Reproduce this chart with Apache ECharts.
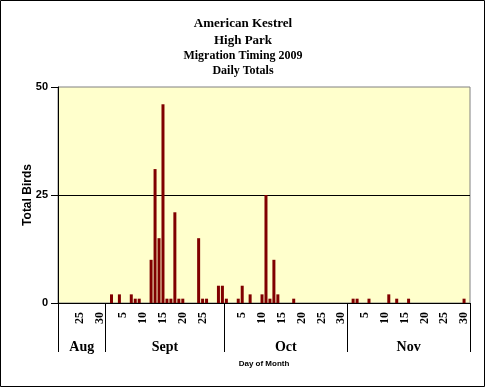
<!DOCTYPE html>
<html>
<head>
<meta charset="utf-8">
<script src="https://cdn.jsdelivr.net/npm/echarts@6/dist/echarts.min.js"></script>
<style>
html,body{margin:0;padding:0;background:#fff;}
#chart{width:486px;height:388px;}
</style>
</head>
<body>
<div id="chart"></div>
<script>
// ---- data ----
const monthNames = ['Aug', 'Sept', 'Oct', 'Nov'];
const firstDay = [20, 1, 1, 1];
const lastDay = [31, 30, 31, 30];
const labelledDays = {
  Aug: [25, 30],
  Sept: [5, 10, 15, 20, 25],
  Oct: [5, 10, 15, 20, 25, 30],
  Nov: [5, 10, 15, 20, 25, 30]
};
// daily counts, one value per day from firstDay to lastDay
const augCounts  = [0,0,0,0,0,0,0,0,0,0,0,0];
const septCounts = [0,2,0,2,0,0,2,1,1,0, 0,10,31,15,46,1,1,21,1,1, 0,0,0,15,1,1,0,0,4,4];
const octCounts  = [1,0,0,1,4,0,2,0,0,2, 25,1,10,2,0,0,0,1,0,0, 0,0,0,0,0,0,0,0,0,0,0];
const novCounts  = [0,1,1,0,0,1,0,0,0,0, 2,0,1,0,0,1,0,0,0,0, 0,0,0,0,0,0,0,0,0,1];
const yTicks = [0, 25, 50];
const titleLines = ['American Kestrel', 'High Park', 'Migration Timing 2009', 'Daily Totals'];

// ---- build categories ----
const monthCounts = [augCounts, septCounts, octCounts, novCounts];
const categories = [];
const labels = [];
const values = [];
const boundaries = [0];
monthNames.forEach((m, i) => {
  for (let d = firstDay[i]; d <= lastDay[i]; d++) {
    categories.push(m + ' ' + d);
    labels.push(labelledDays[m].indexOf(d) >= 0 ? String(d) : '');
    values.push(monthCounts[i][d - firstDay[i]]);
  }
  boundaries.push(categories.length);
});
// trailing empty slot at the end of the axis
categories.push('');
labels.push('');
values.push(null);
const total = categories.length;
boundaries[boundaries.length - 1] = total;
const monthCenters = [];
for (let i = 0; i < monthNames.length; i++) monthCenters.push((boundaries[i] + boundaries[i + 1]) / 2);

const serif = 'Liberation Serif';
const sans = 'Liberation Sans';
const titleTops = [17, 34, 50, 65];
const titleSizes = [13, 13, 12, 12];

const chart = echarts.init(document.getElementById('chart'), null, {renderer: 'canvas'});
chart.setOption({
  animation: false,
  backgroundColor: '#ffffff',
  title: titleLines.map((t, i) => ({
    text: t, left: 'center', top: titleTops[i], padding: 0,
    textStyle: {fontFamily: serif, fontWeight: 'bold', fontSize: titleSizes[i], color: '#000'}
  })),
  graphic: [{
    type: 'rect', shape: {x: 0.5, y: 0.5, width: 484, height: 386},
    style: {fill: 'none', stroke: '#000', lineWidth: 1}, silent: true
  }],
  grid: {
    left: 58, right: 16, top: 87, bottom: 85,
    show: true, backgroundColor: '#FFFFCC', borderColor: '#808080', borderWidth: 1,
    containLabel: false
  },
  xAxis: [{
    type: 'category', data: categories, position: 'bottom',
    axisLine: {show: true, lineStyle: {color: '#000', width: 1}},
    axisTick: {show: false},
    splitLine: {show: false},
    axisLabel: {
      interval: 0, rotate: 90, margin: 9,
      formatter: (v, idx) => labels[idx],
      fontFamily: serif, fontWeight: 'bold', fontSize: 12, color: '#000'
    }
  }, {
    type: 'value', min: 0, max: total, position: 'bottom',
    axisLine: {show: false},
    axisTick: {show: true, customValues: boundaries, length: 49, lineStyle: {color: '#000', width: 1}},
    splitLine: {show: false},
    axisLabel: {
      customValues: monthCenters, margin: 37,
      formatter: (v) => { const k = monthCenters.indexOf(v); return k >= 0 ? monthNames[k] : ''; },
      fontFamily: serif, fontWeight: 'bold', fontSize: 14, color: '#000'
    },
    name: 'Day of Month', nameLocation: 'middle', nameGap: 57, nameMoveOverlap: false,
    nameTextStyle: {fontFamily: sans, fontWeight: 'bold', fontSize: 8, color: '#000'}
  }],
  yAxis: {
    type: 'value', min: yTicks[0], max: yTicks[yTicks.length - 1], interval: yTicks[1] - yTicks[0],
    axisLine: {show: true, lineStyle: {color: '#000', width: 1}},
    axisTick: {show: true, length: 7, lineStyle: {color: '#000'}},
    splitLine: {show: true, showMinLine: false, showMaxLine: false, lineStyle: {color: '#000', width: 1}},
    axisLabel: {margin: 10, fontFamily: sans, fontWeight: 'bold', fontSize: 11, color: '#000'},
    name: 'Total Birds', nameLocation: 'middle', nameGap: 24, nameMoveOverlap: false,
    nameTextStyle: {fontFamily: sans, fontWeight: 'bold', fontSize: 12, color: '#000'}
  },
  series: [{
    type: 'bar', xAxisIndex: 0, yAxisIndex: 0, data: values,
    barWidth: 3, itemStyle: {color: '#800000'}
  }]
});
</script>
</body>
</html>
